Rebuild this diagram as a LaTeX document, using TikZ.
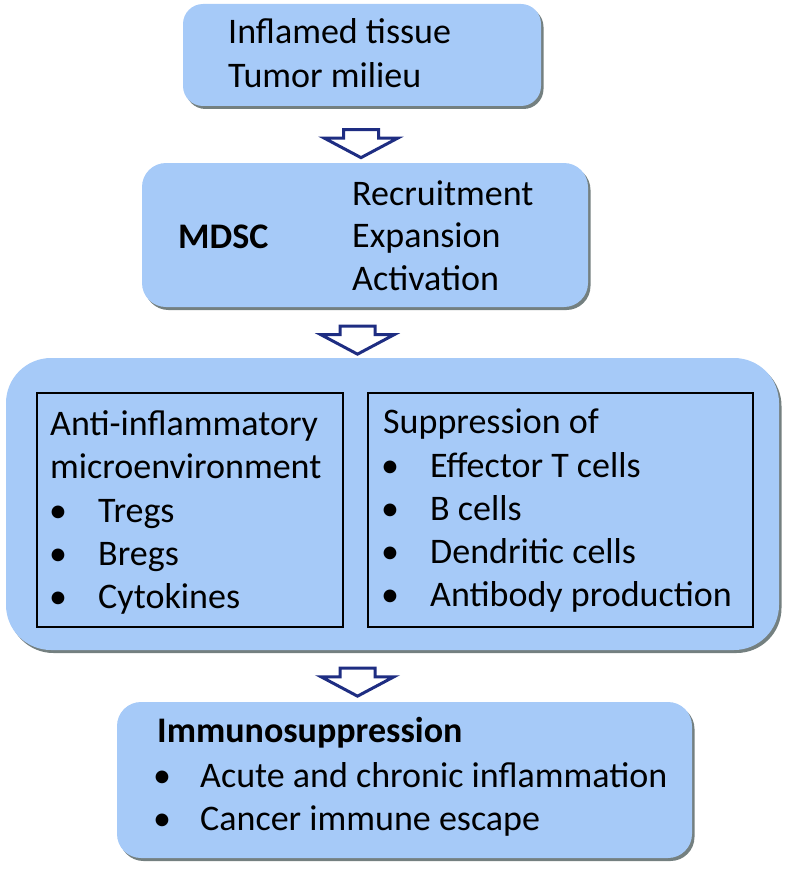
\documentclass[tikz,border=0pt]{standalone}
\usepackage{fontspec}
\setmainfont{Carlito}
\usetikzlibrary{shapes.arrows,shadows}
\definecolor{boxblue}{RGB}{166,202,248}
\definecolor{arrowblue}{RGB}{30,45,130}
\definecolor{shadowgray}{RGB}{70,85,85}

\begin{document}
\begin{tikzpicture}[x=1pt, y=-1pt,
	box/.style={rounded corners=#1, fill=boxblue, inner sep=0pt,
		drop shadow={shadow xshift=2.5pt, shadow yshift=-3pt, fill=shadowgray, opacity=0.75}},
	box/.default=22pt,
	inbox/.style={draw=black, line width=1.3pt, inner sep=0pt},
	blockarrow/.style={single arrow, draw=arrowblue, line width=3pt, fill=white, rotate=-90,
		minimum height=28pt, inner xsep=0pt, inner ysep=16pt, single arrow head extend=19pt,
		single arrow tip angle=124, single arrow head indent=0pt},
	txt/.style={anchor=base west, inner sep=0pt, font=\fontsize{36}{43}\selectfont},
	bul/.style={anchor=base, inner sep=0pt, font=\fontsize{36}{43}\selectfont}]
	\useasboundingbox (0,0) rectangle (792,872);

	% boxes
	\node[box=20pt, minimum width=358pt, minimum height=102pt] (src) at (362,55) {};
	\node[box=24pt, minimum width=446pt, minimum height=144pt] (mdsc) at (365,235) {};
	\node[box=45pt, minimum width=773pt, minimum height=292pt] (effects) at (392.5,504) {};
	\node[inbox, minimum width=306pt, minimum height=234pt] (anti) at (190,510) {};
	\node[inbox, minimum width=385pt, minimum height=234pt] (suppr) at (560.5,510) {};
	\node[box=24pt, minimum width=575pt, minimum height=156pt] (outcome) at (404.5,780) {};

	% block arrows
	\node[blockarrow] (a1) at (361,139) {};
	\node[blockarrow] (a2) at (357.5,335.5) {};
	\node[blockarrow] (a3) at (357.5,677.5) {};

	% texts
	\node[txt] (src-1) at (228,44) {Inflamed tissue};
	\node[txt] (src-2) at (228,88) {Tumor milieu};

	\node[txt, font=\fontsize{36}{43}\selectfont\bfseries] (mdsc-t) at (178,248) {MDSC};
	\foreach \lbl [count=\i from 0] in {Recruitment,Expansion,Activation}
		\node[txt] (mdsc-\i) at (352,205+42.5*\i) {\lbl};

	\node[txt] (anti-t1) at (50,435) {Anti-inflammatory};
	\node[txt] (anti-t2) at (50,478) {microenvironment};
	\foreach \lbl [count=\i from 0] in {Tregs,Bregs,Cytokines}{
		\node[bul] (anti-b\i) at (58,522+43*\i) {\textbullet};
		\node[txt] (anti-\i) at (98,522+43*\i) {\lbl};
	}

	\node[txt] (suppr-t) at (383,433) {Suppression of};
	\foreach \lbl [count=\i from 0] in {Effector T cells,B cells,Dendritic cells,Antibody production}{
		\node[bul] (suppr-b\i) at (390,477+43.3*\i) {\textbullet};
		\node[txt] (suppr-\i) at (430,477+43.3*\i) {\lbl};
	}

	\node[txt, font=\fontsize{36}{43}\selectfont\bfseries] (outcome-t) at (157,742) {Immunosuppression};
	\foreach \lbl [count=\i from 0] in {Acute and chronic inflammation,Cancer immune escape}{
		\node[bul] (outcome-b\i) at (162,787+43*\i) {\textbullet};
		\node[txt] (outcome-\i) at (200,787+43*\i) {\lbl};
	}
\end{tikzpicture}
\end{document}
